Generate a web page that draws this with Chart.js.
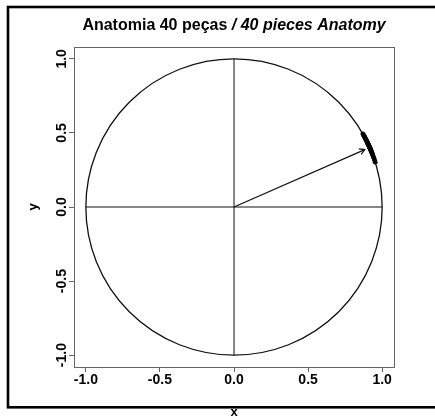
<!DOCTYPE html>
<html>
<head>
<meta charset="utf-8">
<script src="https://cdn.jsdelivr.net/npm/chart.js@4"></script>
<style>
html,body{margin:0;padding:0;background:#fff;}
canvas{display:block;}
</style>
</head>
<body>
<canvas id="c" width="435" height="416"></canvas>
<script>
// ---- data ----
const titleMain = "Anatomia 40 peças ";
const titleItalic = "/ 40 pieces Anatomy";
const xTitle = "x";
const yTitle = "y";
const tickValues = [-1.0, -0.5, 0.0, 0.5, 1.0];
// 40 directions (degrees) plotted on the unit circle
const anglesDeg = [17.6, 18.3, 19.0, 19.6, 20.1, 20.6, 21.0, 21.4, 21.7, 22.0,
                   22.3, 22.6, 22.8, 23.0, 23.2, 23.4, 23.6, 23.8, 24.0, 24.2,
                   24.4, 24.6, 24.8, 25.0, 25.2, 25.4, 25.6, 25.8, 26.0, 26.3,
                   26.6, 26.9, 27.2, 27.5, 27.8, 28.1, 28.4, 28.7, 29.1, 29.6];
// mean resultant vector (arrow)
const meanAngleDeg = 23.7;
const meanLength = 0.964;

const FONT = '"Liberation Sans", Arial, Helvetica, sans-serif';
const rad = d => d * Math.PI / 180;
const pts = anglesDeg.map(a => ({x: Math.cos(rad(a)), y: Math.sin(rad(a))}));
const arrowPts = [{x: 0, y: 0}, {x: meanLength * Math.cos(rad(meanAngleDeg)), y: meanLength * Math.sin(rad(meanAngleDeg))}];

const decor = {
  id: 'decor',
  beforeDatasetsDraw(chart) {
    const {ctx, scales: {x, y}} = chart;
    const cx = x.getPixelForValue(0), cy = y.getPixelForValue(0);
    const rx = x.getPixelForValue(1) - cx, ry = cy - y.getPixelForValue(1);
    ctx.save();
    ctx.strokeStyle = '#111';
    ctx.lineWidth = 1.3;
    ctx.beginPath();
    ctx.ellipse(cx, cy, rx, ry, 0, 0, Math.PI * 2);
    ctx.stroke();
    ctx.restore();
  },
  afterDraw(chart) {
    const {ctx, chartArea: ca, scales: {x, y}} = chart;
    ctx.save();
    // plot frame
    ctx.strokeStyle = '#666';
    ctx.lineWidth = 1;
    ctx.strokeRect(ca.left + 0.5, ca.top + 0.5, ca.right - ca.left, ca.bottom - ca.top);
    // arrowhead
    const m = chart.getDatasetMeta(1).data;
    const x0 = m[0].x, y0 = m[0].y, x1 = m[1].x, y1 = m[1].y;
    const ang = Math.atan2(y1 - y0, x1 - x0);
    const L = 6, A = Math.PI / 6;
    ctx.strokeStyle = '#111';
    ctx.lineWidth = 1.2;
    ctx.beginPath();
    ctx.moveTo(x1 - L * Math.cos(ang - A), y1 - L * Math.sin(ang - A));
    ctx.lineTo(x1, y1);
    ctx.lineTo(x1 - L * Math.cos(ang + A), y1 - L * Math.sin(ang + A));
    ctx.stroke();
    // y tick labels (rotated)
    ctx.fillStyle = '#000';
    ctx.font = 'bold 14px ' + FONT;
    ctx.textAlign = 'center';
    ctx.textBaseline = 'alphabetic';
    tickValues.forEach(v => {
      const py = y.getPixelForValue(v);
      ctx.save();
      ctx.translate(66, py);
      ctx.rotate(-Math.PI / 2);
      ctx.fillText(v.toFixed(1), 0, 0);
      ctx.restore();
    });
    // y title
    ctx.font = 'bold 13px ' + FONT;
    ctx.save();
    ctx.translate(37, (ca.top + ca.bottom) / 2);
    ctx.rotate(-Math.PI / 2);
    ctx.fillText(yTitle, 0, 0);
    ctx.restore();
    // x title
    ctx.fillText(xTitle, (ca.left + ca.right) / 2, 416);
    // title
    const f1 = 'bold 16px ' + FONT, f2 = 'italic bold 16px ' + FONT;
    ctx.font = f1; const w1 = ctx.measureText(titleMain).width;
    ctx.font = f2; const w2 = ctx.measureText(titleItalic).width;
    const sx = (ca.left + ca.right) / 2 - (w1 + w2) / 2;
    ctx.textAlign = 'left';
    ctx.font = f1; ctx.fillText(titleMain, sx, 30);
    ctx.font = f2; ctx.fillText(titleItalic, sx + w1, 30);
    // outer figure border
    ctx.strokeStyle = '#000';
    ctx.lineWidth = 2.6;
    ctx.strokeRect(8, 7, 460, 400.3);
    ctx.restore();
  }
};

new Chart(document.getElementById('c'), {
  type: 'scatter',
  data: {
    datasets: [
      {data: pts, pointRadius: 2.4, pointBackgroundColor: '#000', pointBorderWidth: 0, showLine: false},
      {data: arrowPts, showLine: true, borderColor: '#111', borderWidth: 1.2, pointRadius: 0},
      {data: [{x: -1, y: 0}, {x: 1, y: 0}], showLine: true, borderColor: '#111', borderWidth: 1, pointRadius: 0},
      {data: [{x: 0, y: -1}, {x: 0, y: 1}], showLine: true, borderColor: '#111', borderWidth: 1, pointRadius: 0}
    ]
  },
  options: {
    responsive: false,
    animation: false,
    devicePixelRatio: 1,
    layout: {padding: {left: 0, right: 41, top: 47, bottom: 0}},
    plugins: {legend: {display: false}, tooltip: {enabled: false}, title: {display: false}},
    scales: {
      x: {
        type: 'linear', min: -1.08, max: 1.08,
        afterFit: s => { s.height = 49; },
        border: {display: false},
        grid: {drawOnChartArea: false, drawTicks: true, tickLength: 5, color: '#666'},
        ticks: {stepSize: 0.5, includeBounds: false, padding: 0, color: '#000',
                font: {family: FONT, size: 14, weight: 'bold'},
                callback: v => Number(v).toFixed(1), maxRotation: 0}
      },
      y: {
        type: 'linear', min: -1.08, max: 1.08,
        afterFit: s => { s.width = 74; },
        border: {display: false},
        grid: {drawOnChartArea: false, drawTicks: true, tickLength: 5, color: '#666'},
        ticks: {stepSize: 0.5, includeBounds: false, display: false}
      }
    }
  },
  plugins: [decor]
});
</script>
</body>
</html>
